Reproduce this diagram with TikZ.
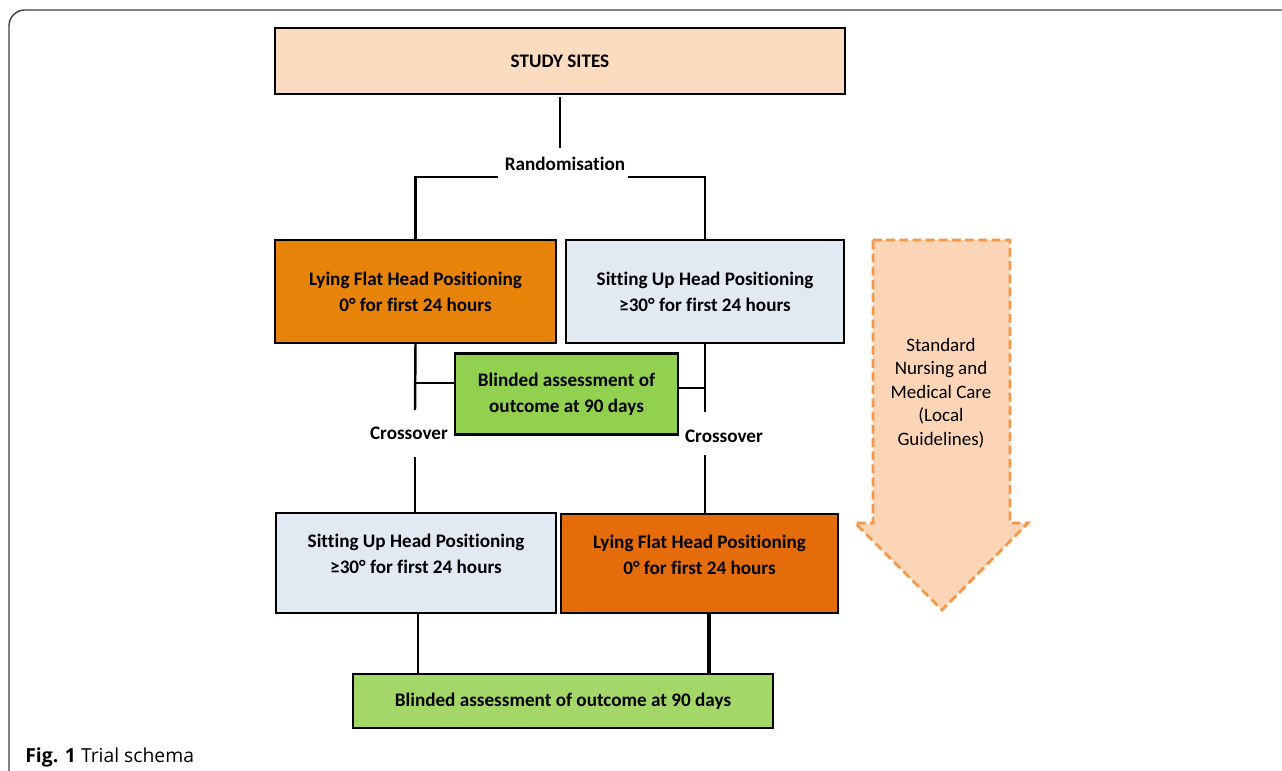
\documentclass[tikz,border=0pt]{standalone}
\usepackage{fontspec}
\setmainfont{Carlito}[Ligatures=NoCommon]
\newfontfamily\capfont{Open Sans}
\usepackage{tikz}

\definecolor{sitefill}{HTML}{FBDCC0}
\definecolor{lieone}{HTML}{E8830A}
\definecolor{lietwo}{HTML}{E46C0A}
\definecolor{sitfill}{HTML}{E1E9F3}
\definecolor{blindone}{HTML}{92D050}
\definecolor{blindtwo}{HTML}{A3D768}
\definecolor{carefill}{HTML}{FBD5B5}
\definecolor{careline}{HTML}{F79646}

\begin{document}
\begin{tikzpicture}[x=0.02cm,y=-0.02cm]
\tikzstyle{every node}+=[inner sep=0pt]
\tikzstyle{box}=[draw=black, line width=1.4pt, rectangle, align=center,
  font=\fontsize{10.9}{14.8}\selectfont\bfseries]
\tikzstyle{lbl}=[font=\fontsize{10.9}{14.8}\selectfont\bfseries]
\tikzstyle{link}=[black, line width=1.4pt]
\useasboundingbox (0,0) rectangle (1282,771);
\clip (0,0) rectangle (1282,771);
% frame
\draw [black!75, line width=0.8pt, rounded corners=9pt] (1300,10) -- (9,10) -- (9,790);
% boxes
\node [box, fill=sitefill, minimum width=11.4cm, minimum height=1.32cm] (sites) at (560,61) {STUDY SITES};
\node [lbl] (rand) at (565,164) {Randomisation};
\node [box, fill=lieone, minimum width=5.62cm, minimum height=2.06cm] (lie1) at (415.5,291.5)
  {Lying Flat Head Positioning\\0° for first 24 hours};
\node [box, fill=sitfill, minimum width=5.56cm, minimum height=2.06cm] (sit1) at (705,291.5)
  {Sitting Up Head Positioning\\≥30° for first 24 hours};
\node [box, fill=blindone, minimum width=4.46cm, minimum height=1.62cm] (blind1) at (566.5,394)
  {Blinded assessment of\\outcome at 90 days};
\node [lbl] (crossL) at (409,433) {Crossover};
\node [lbl] (crossR) at (724,436) {Crossover};
\node [box, fill=sitfill, minimum width=5.6cm, minimum height=2.0cm, text depth=10pt] (sit2) at (416,563)
  {Sitting Up Head Positioning\\≥30° for first 24 hours};
\node [box, fill=lietwo, minimum width=5.54cm, minimum height=1.98cm, text depth=10pt] (lie2) at (699.5,563.5)
  {Lying Flat Head Positioning\\0° for first 24 hours};
\node [box, fill=blindtwo, minimum width=8.4cm, minimum height=1.08cm] (blind2) at (563,701)
  {Blinded assessment of outcome at 90 days};
% connectors
\coordinate (rL) at (498,177);
\coordinate (rR) at (628,177);
\coordinate (jL) at (415,383);
\coordinate (jR) at (705,388);
\coordinate (xL1) at (415,410);
\coordinate (xR1) at (705,412);
\coordinate (xL2) at (415,457);
\coordinate (xR2) at (705,455);
\draw [link] (560,97) -- (560,148);
\draw [link] (rL) -| (lie1.north);
\draw [link] (rR) -| (sit1.north);
\draw [link] (lie1.south) -- (xL1);
\draw [link] (sit1.south) -- (xR1);
\draw [link] (jL) -- (jL -| blind1.west);
\draw [link] (jR) -- (jR -| blind1.east);
\draw [link] (xL2) -- (xL2 |- sit2.north);
\draw [link] (xR2) -- (xR2 |- lie2.north);
\draw [link] (418,613) -- (418,674);
\draw [black, line width=2pt] (709,613) -- (709,674);
% care arrow
\draw [careline, fill=carefill, line width=1.6pt, dash pattern=on 5pt off 2.5pt]
  (873,240) -- (1010,240) -- (1010,523) -- (1028,523) -- (942,610) -- (855,523) -- (873,523) -- cycle;
\node [align=center, font=\fontsize{10.8}{13.4}\selectfont] (care) at (941,393)
  {Standard\\Nursing and\\Medical Care\\(Local\\Guidelines)};
% caption
\node [anchor=base west, font=\capfont\fontsize{11}{13}\selectfont] (cap) at (25,762)
  {\textbf{Fig. 1} Trial schema};
\end{tikzpicture}
\end{document}
